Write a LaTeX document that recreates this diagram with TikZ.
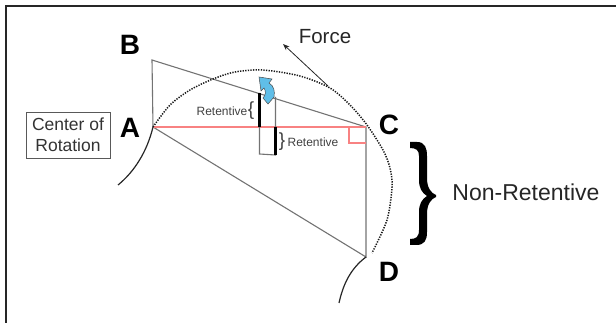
\documentclass[tikz,border=0pt]{standalone}
\usepackage{fontspec}
\setmainfont{Liberation Sans}
\usepackage{xcolor}
\usetikzlibrary{arrows.meta,positioning,calc}
\definecolor{ruleblue}{RGB}{96,190,232}
\definecolor{anglered}{RGB}{248,130,130}
\newcommand{\sized}[1]{\fontsize{#1}{#1}\selectfont}
\begin{document}
\begin{tikzpicture}[x=1pt,y=-1pt,>=Stealth,
  letter/.style={font=\sized{28}\bfseries,inner sep=0pt},
  word/.style={font=\sized{12},text=black!75,inner sep=0pt},
  bigword/.style={text=black!85,inner sep=0pt},
  edge/.style={draw=black!55,line width=1.1pt},
  redline/.style={draw=anglered,line width=1.2pt},
  bar/.style={draw=black,line width=3pt},
  socket/.style={draw=black!85,line width=1.2pt}]
\useasboundingbox (0,0) rectangle (616,323);
% frame, only top and left
\coordinate (f0) at (616,6);
\coordinate (f1) at (6,6);
\coordinate (f2) at (6,323);
\draw[black!85,line width=1.8pt] (f0) -- (f1) -- (f2);
% tooth corners
\coordinate (A) at (153,127);
\coordinate (B) at (152,60);
\coordinate (C) at (366,127);
\coordinate (D) at (366,257);
\draw[edge] (A) -- (B) -- (C) -- (D) -- (A);
\draw[redline] (A) -- (C);
\coordinate (r1) at (349,127);
\coordinate (r2) at (349,143);
\coordinate (r3) at (366,143);
\draw[redline] (r1) -- (r2) -- (r3);
% path of rotation
\draw[black!90,line width=1.5pt,dash pattern=on 1.3pt off 1.3pt] plot[smooth] coordinates {(A) (170,105) (190,90) (213,79) (235,72) (263,70) (300,76) (330,88) (350,105) (367,125) (383,150) (390,168) (392,187) (387,220) (372,253)};
\draw[socket] (A) .. controls (147,152) and (134,172) .. (118,185);
\draw[socket] (D) .. controls (350,269) and (343,285) .. (339,303);
% slot with retentive walls
\coordinate (s1) at (259.5,93);
\coordinate (s2) at (259.5,154);
\coordinate (s3) at (275.5,155);
\coordinate (s4) at (275.5,97);
\draw[edge] (s1) -- (s2) -- (s3) -- (s4);
\coordinate (b1) at (259.5,127);
\coordinate (b2) at (275.5,127);
\draw[bar] (s1) -- (b1);
\draw[bar] (b2) -- (s3);
% blue arrow
\fill[ruleblue,draw=black!70,line width=0.5pt] (259,77) -- (272,79) -- (269,83) .. controls (274,86) and (275,91) .. (274,97) -- (268,104) -- (263,98) .. controls (266,95) and (266,91) .. (264,88) -- (261,91) -- cycle;
\coordinate (p1) at (328,86);
\coordinate (p2) at (283,44);
\draw[->,black!85,line width=0.8pt] (p1) -- (p2);
% labels
\node[letter] (lb) at (130,45) {B};
\node[letter] (la) at (130,128) {A};
\node[letter] (lc) at (389,125) {C};
\node[letter] (ld) at (389,272) {D};
\node[bigword,font=\sized{20.5}] (force) at (325,37) {Force};
\node[draw=black!65,line width=0.8pt,minimum width=84pt,minimum height=46pt,inner sep=0pt,align=center,text=black!80,font=\sized{17.5}] (center) at (68,135) {Center of\\[3pt]Rotation};
\node[word] (ret1) at (222,111) {Retentive};
\node[word] (ret2) at (313,142) {Retentive};
\node[word,font=\sized{19}] (brace1) at (251,111) {\{};
\node[word,font=\sized{19}] (brace2) at (282,142) {\}};
\node[bigword,font=\sized{23}] (nonret) at (526,192) {Non-Retentive};
% big brace
\fill[black] (410,142) -- (417,142) .. controls (425,142) and (427,148) .. (427,156) -- (427,178) .. controls (427,188) and (431,193) .. (436,195) -- (436,197) .. controls (431,199) and (427,204) .. (427,214) -- (427,232) .. controls (427,241) and (424,245) .. (416,245) -- (410,245) -- (410,239) .. controls (416,239) and (419,237) .. (419,230) -- (419,212) .. controls (419,204) and (422,199) .. (427,196) .. controls (422,193) and (419,188) .. (419,180) -- (419,156) .. controls (419,150) and (416,148) .. (410,148) -- cycle;
\end{tikzpicture}
\end{document}
